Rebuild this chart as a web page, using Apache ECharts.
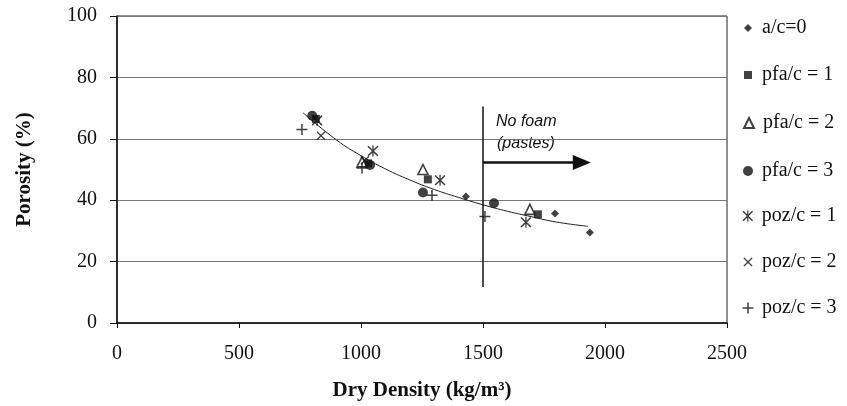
<!DOCTYPE html>
<html>
<head>
<meta charset="utf-8">
<script src="https://cdn.jsdelivr.net/npm/echarts@6/dist/echarts.min.js"></script>
<style>
  html, body { margin: 0; padding: 0; background: #fff; }
  #box { width: 847px; height: 406px; }
</style>
</head>
<body>
<div id="box"></div>
<script>
// data: [dry density, porosity]
var acData   = [[1430, 41.2], [1795, 35.7], [1938, 29.5]];
var pfa1Data = [[815, 66.5], [1029, 52], [1274, 46.8], [1725, 35.4]];
var pfa2Data = [[1004, 52.5], [1254, 50], [1692, 37]];
var pfa3Data = [[800, 67.5], [1037, 51.5], [1254, 42.5], [1545, 39]];
var poz1Data = [[820, 66], [1049, 56], [1324, 46.5], [1676, 32.8]];
var poz2Data = [[836, 61], [1016, 53]];
var poz3Data = [[758, 63], [1004, 50.5], [1291, 41.6], [1508, 34.7]];
// trend curve
var trendData = [[762, 68.5], [900, 59.6], [1000, 54.5], [1100, 50.2], [1200, 46.6], [1300, 43.5],
                 [1400, 40.9], [1500, 38.5], [1600, 36.4], [1700, 34.6], [1800, 32.9], [1930, 31.5]];
var limitLine = [[1500, 11.7], [1500, 70.5]];
var arrowLine = [[1500, 52.3], [1905, 52.3]];
var xTicks = [0, 500, 1000, 1500, 2000, 2500];
var yTicks = [0, 20, 40, 60, 80, 100];
var names = ['a/c=0', 'pfa/c = 1', 'pfa/c = 2', 'pfa/c = 3', 'poz/c = 1', 'poz/c = 2', 'poz/c = 3'];

var plusPath = 'path://M4.3,0H5.7V4.3H10V5.7H5.7V10H4.3V5.7H0V4.3H4.3Z';
var crossPath = 'path://M0,1L1,0L5,4L9,0L10,1L6,5L10,9L9,10L5,6L1,10L0,9L4,5Z';
var starPath = 'path://M0,1.2L1,0.2L5,4.2L9,0.2L10,1.2L6,5.2L10,9.2L9,10.2L5,6.2L1,10.2L0,9.2L4,5.2Z M4.4,0H5.6V10.4H4.4Z';

var serif = 'Liberation Serif';
var markers = [
    { symbol: 'diamond', size: 8 },
    { symbol: 'rect', size: 8 },
    { symbol: 'triangle', size: 10 },
    { symbol: 'circle', size: 10 },
    { symbol: starPath, size: 11 },
    { symbol: crossPath, size: 9 },
    { symbol: plusPath, size: 11 }
];
var sets = [acData, pfa1Data, pfa2Data, pfa3Data, poz1Data, poz2Data, poz3Data];
var legendY = [28, 75, 123, 171, 216, 262, 308];

var mychart = echarts.init(document.getElementById('box'));

var series = [];
var legends = [];
for (var i = 0; i < names.length; i++) {
    var open = (i == 2);
    series.push({
        name: names[i],
        type: 'scatter',
        data: sets[i],
        symbol: markers[i].symbol,
        symbolSize: markers[i].size,
        itemStyle: open ? { color: '#fff', borderColor: '#111', borderWidth: 1.6 } : { color: '#111' },
        z: 5
    });
    legends.push({
        data: [names[i]],
        left: 748 - markers[i].size / 2,
        top: legendY[i] - 11,
        padding: 0,
        itemWidth: markers[i].size,
        itemHeight: markers[i].size,
        selectedMode: false,
        textStyle: { fontFamily: serif, fontSize: 20, color: '#111', padding: [0, 0, 0, 9 - markers[i].size / 2], height: 22, lineHeight: 22 }
    });
}
series.push({
    type: 'line', data: trendData, smooth: true, symbol: 'none', silent: true,
    lineStyle: { color: '#222', width: 1 }
});
series.push({
    type: 'line', data: limitLine, symbol: 'none', silent: true,
    lineStyle: { color: '#111', width: 1.5 }
});
series.push({
    type: 'line', silent: true,
    data: [
        { value: arrowLine[0], symbol: 'none' },
        { value: arrowLine[1], symbol: 'triangle', symbolRotate: -90, symbolSize: [15, 18] }
    ],
    itemStyle: { color: '#111' },
    lineStyle: { color: '#111', width: 2.5 }
});

var option = {
    backgroundColor: '#fff',
    animation: false,
    grid: {
        left: 117, right: 120, top: 16, bottom: 82,
        show: true, borderColor: '#222', borderWidth: 1
    },
    legend: legends,
    xAxis: {
        type: 'value',
        min: xTicks[0], max: xTicks[xTicks.length - 1], interval: 500,
        name: 'Dry Density (kg/m\u00b3)',
        nameLocation: 'middle',
        nameGap: 57,
        nameTextStyle: { fontFamily: serif, fontWeight: 'bold', fontSize: 21, color: '#111' },
        axisLine: { lineStyle: { color: '#111', width: 1.5 } },
        axisTick: { show: true, length: 5, lineStyle: { color: '#111' } },
        axisLabel: { fontFamily: serif, fontSize: 20, color: '#111', margin: 21, formatter: function (v) { return String(v); } },
        splitLine: { show: false }
    },
    yAxis: {
        type: 'value',
        min: yTicks[0], max: yTicks[yTicks.length - 1], interval: 20,
        name: 'Porosity (%)',
        nameLocation: 'middle',
        nameGap: 82,
        nameTextStyle: { fontFamily: serif, fontWeight: 'bold', fontSize: 21, color: '#111' },
        axisLine: { lineStyle: { color: '#111', width: 1.5 } },
        axisTick: { show: true, length: 7, lineStyle: { color: '#111' } },
        axisLabel: { fontFamily: serif, fontSize: 20, color: '#111', margin: 20 },
        splitLine: { show: true, lineStyle: { color: '#777', width: 1 } }
    },
    graphic: [
        { type: 'text', left: 496, top: 114, style: { text: 'No foam', font: 'italic 16px "Liberation Sans"', fill: '#111' } },
        { type: 'text', left: 497, top: 136, style: { text: '(pastes)', font: 'italic 16px "Liberation Sans"', fill: '#111' } }
    ],
    series: series
};
mychart.setOption(option);
</script>
</body>
</html>
